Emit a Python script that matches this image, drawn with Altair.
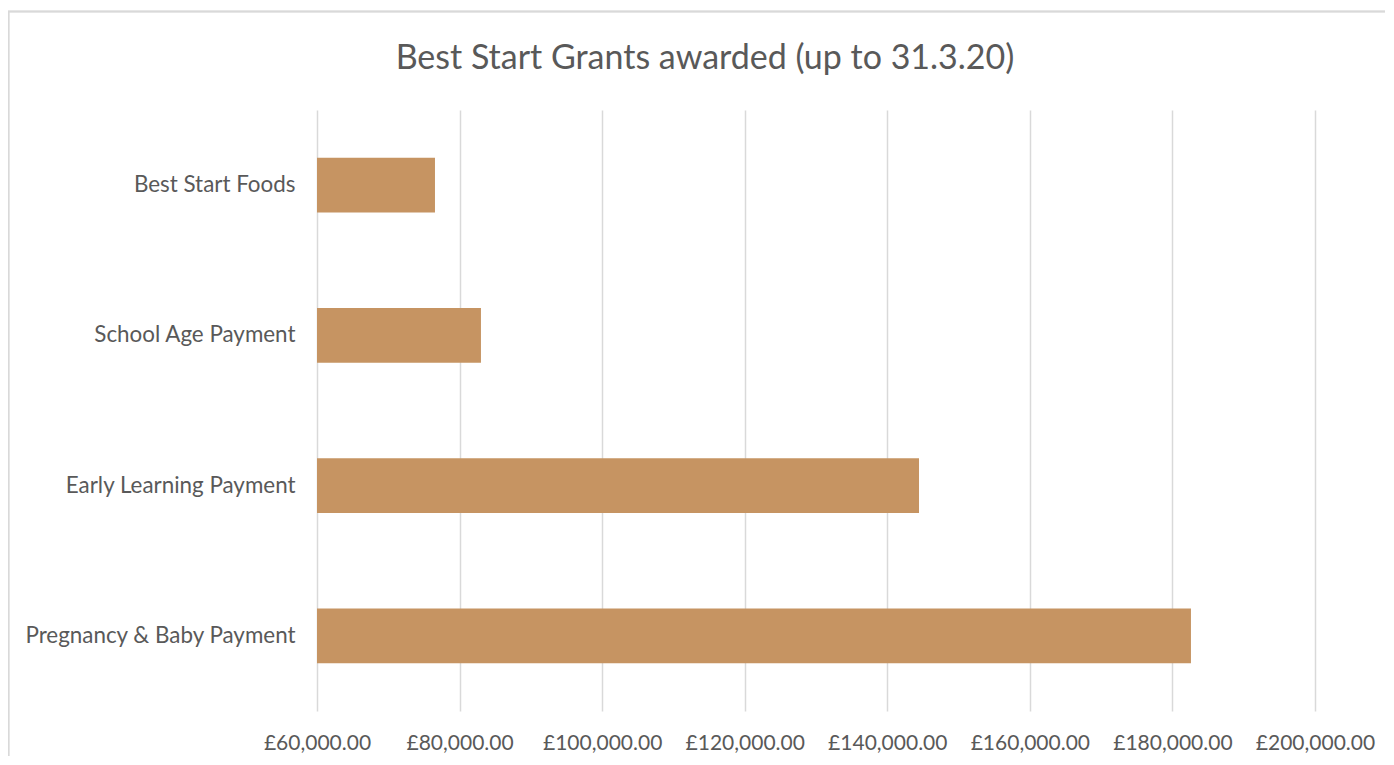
import altair as alt
import pandas as pd

title_text = "Best Start Grants awarded (up to 31.3.20)"
categories = ["Best Start Foods", "School Age Payment", "Early Learning Payment", "Pregnancy & Baby Payment"]
amounts = [76550, 83000, 144450, 182600]
tick_values = [60000, 80000, 100000, 120000, 140000, 160000, 180000, 200000]

df = pd.DataFrame({"category": categories, "amount": amounts})

FONT = "Lato"
GREY = "#595959"

bars = alt.Chart(df).mark_bar(color="#C69462", clip=True).encode(
    y=alt.Y("category:N", sort=categories, title=None,
            scale=alt.Scale(paddingInner=0.635, paddingOuter=0.3175),
            axis=alt.Axis(labelFontSize=22.4, labelColor=GREY, labelFont=FONT,
                          labelPadding=22, ticks=False, domain=False, grid=False,
                          labelLimit=400)),
    x=alt.X("amount:Q", title=None,
            scale=alt.Scale(domain=[60000, 200000], zero=False, nice=False),
            axis=alt.Axis(values=tick_values, format="$,.2f", labelFontSize=21,
                          labelColor=GREY, labelFont=FONT, labelPadding=21,
                          ticks=False, domain=False, grid=True,
                          gridColor="#D9D9D9", gridWidth=1.5, labelFlush=False)),
)

frame_left = alt.Chart(df).mark_rule(color="#D9D9D9", strokeWidth=1.5).encode(
    x=alt.value(-308.5), y=alt.value(-99), y2=alt.value(700))
frame_top = alt.Chart(df).mark_rule(color="#D9D9D9", strokeWidth=1.5).encode(
    x=alt.value(-309), x2=alt.value(1100), y=alt.value(-98.5))

title = alt.Chart(pd.DataFrame({"t": [title_text]})).mark_text(
    font=FONT, fontSize=34, color=GREY, align="center", baseline="middle"
).encode(text="t:N", x=alt.value(388), y=alt.value-51 if False else alt.value(-51))

chart = alt.layer(frame_left, frame_top, bars, title).properties(
    width=998, height=601,
    autosize=alt.AutoSizeParams(type="none"),
    padding={"left": 309, "top": 102, "right": 70, "bottom": 45},
).configure(
    locale={"number": {"decimal": ".", "thousands": ",", "grouping": [3], "currency": ["£", ""]}}
).configure_view(stroke=None)

chart.save("out.html", embed_options={"renderer": "svg", "actions": False})
